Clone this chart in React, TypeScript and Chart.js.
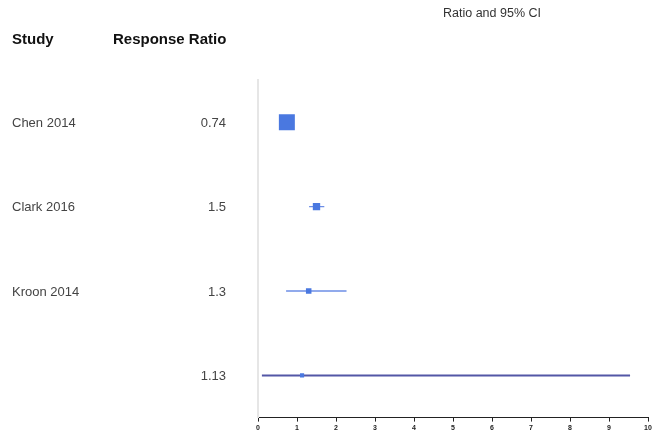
import React, { useEffect, useRef } from "react";
import { Chart, registerables } from "chart.js";

Chart.register(...registerables);

const studies = ["Chen 2014", "Clark 2016", "Kroon 2014", ""];
const ratioLabels = ["0.74", "1.5", "1.3", "1.13"];
const estimates = [0.74, 1.5, 1.3, 1.13];
const lower = [0.6, 1.31, 0.72, 0.1];
const upper = [0.88, 1.7, 2.27, 9.54];
const markerSizes = [11.3, 5.2, 3.9, 2.9];
const xTicks = [0, 1, 2, 3, 4, 5, 6, 7, 8, 9, 10];

const FONT = "Arial, 'Liberation Sans', sans-serif";

const textPlugin = {
  id: "forestText",
  afterDraw(chart: any) {
    const ctx = chart.ctx;
    const y = chart.scales.y;
    ctx.save();
    ctx.fillStyle = "#111";
    ctx.font = `bold 15px ${FONT}`;
    ctx.textBaseline = "middle";
    ctx.textAlign = "left";
    ctx.fillText("Study", 12, 40);
    ctx.fillText("Response Ratio", 113, 40);
    ctx.font = `12.5px ${FONT}`;
    ctx.fillStyle = "#333";
    ctx.fillText("Ratio and 95% CI", 443, 14);
    ctx.font = `13px ${FONT}`;
    ctx.fillStyle = "#444";
    studies.forEach((s, i) => {
      const py = y.getPixelForValue(i) + 1;
      ctx.textAlign = "left";
      ctx.fillText(s, 12, py);
      ctx.textAlign = "right";
      ctx.fillText(ratioLabels[i], 226, py);
    });
    ctx.restore();
  },
};

export default function App() {
  const ref = useRef<HTMLCanvasElement>(null);
  useEffect(() => {
    if (!ref.current) return;
    const ciDatasets = studies.map((s, i) => ({
      type: "line" as const,
      label: "ci" + i,
      order: 1,
      data: [
        { x: lower[i], y: i },
        { x: upper[i], y: i },
      ],
      borderColor: i === studies.length - 1 ? "#5357a6" : "#6d8ee6",
      borderWidth: i === studies.length - 1 ? 2 : 1.3,
      pointRadius: 0,
      fill: false,
    }));
    const chart = new Chart(ref.current, {
      type: "scatter",
      data: {
        datasets: [
          {
            type: "scatter" as const,
            label: "est",
            order: 0,
            data: estimates.map((v, i) => ({ x: v, y: i })),
            pointStyle: "rect",
            pointRadius: markerSizes,
            backgroundColor: "#4a78e0",
            borderWidth: 0,
          },
          ...ciDatasets,
        ] as any,
      },
      options: {
        animation: false,
        responsive: false,
        layout: { padding: { left: 258, right: 15, top: 80, bottom: 1 } },
        plugins: { legend: { display: false }, tooltip: { enabled: false } },
        scales: {
          x: {
            type: "linear",
            min: 0,
            max: 10,
            afterBuildTicks: (s: any) => {
              s.ticks = xTicks.map((v) => ({ value: v }));
            },
            ticks: {
              font: { size: 7, weight: "bold", family: FONT },
              color: "#222",
              padding: 2,
              maxRotation: 0,
              autoSkip: false,
            },
            grid: { drawOnChartArea: false, tickLength: 4, color: "#222" },
            border: { color: "#222", width: 1 },
          },
          y: {
            type: "linear",
            reverse: true,
            min: -0.5,
            max: 3.5,
            ticks: { display: false },
            grid: { display: false, drawTicks: false },
            border: { display: true, color: "#e6e6e6", width: 2 },
          },
        },
      },
      plugins: [textPlugin],
    } as any);
    return () => chart.destroy();
  }, []);
  return (
    <div style={{ position: "fixed", left: 0, top: 0, width: 663, height: 435, background: "#fff" }}>
      <canvas ref={ref} width={663} height={435} />
    </div>
  );
}
